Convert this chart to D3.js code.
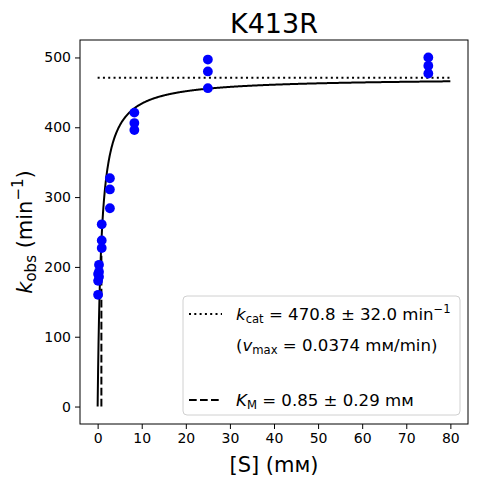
<!DOCTYPE html>
<html>
<head>
<meta charset="utf-8">
<script src="https://cdn.jsdelivr.net/npm/d3@7"></script>
<style>
  body { margin: 0; background: #fff; }
  text { font-family: "DejaVu Sans", sans-serif; fill: #000; }
</style>
</head>
<body>
<div id="chart"></div>
<script>
// measured substrate concentrations (mM) and observed rates (min^-1)
const substrate = [0.103, 0.103, 0.103, 0.309, 0.309, 0.309, 0.926, 0.926, 0.926,
                   2.78, 2.78, 2.78, 8.33, 8.33, 8.33, 25, 25, 25, 75, 75, 75];
const kobs = [160, 180, 190, 203, 193, 186, 261, 238, 227,
              327, 311, 284, 421, 406, 396, 497, 480, 456, 500, 488, 477];

// fitted Michaelis-Menten parameters
const kcat = 470.8;
const km = 0.85;
const xTicks = [0, 10, 20, 30, 40, 50, 60, 70, 80];
const yTicks = [0, 100, 200, 300, 400, 500];

const W = 477, H = 484;
const margin = {top: 40, right: 9, bottom: 60, left: 80};
const width = W - margin.left - margin.right,
      height = H - margin.top - margin.bottom;

const svg = d3.select("#chart")
  .append("svg")
    .attr("width", W)
    .attr("height", H);

const g = svg.append("g")
    .attr("transform", `translate(${margin.left},${margin.top})`);

const x = d3.scaleLinear().domain([-4, 84]).range([0, width]);
const y = d3.scaleLinear().domain([-25, 525]).range([height, 0]);

// axes
const xAxis = g.append("g")
  .attr("transform", `translate(0,${height})`)
  .call(d3.axisBottom(x).tickValues(xTicks).tickSize(5).tickPadding(4));
const yAxis = g.append("g")
  .call(d3.axisLeft(y).tickValues(yTicks).tickSize(5).tickPadding(4));
[xAxis, yAxis].forEach(a => {
  a.select(".domain").remove();
  a.selectAll("text").style("font-family", "DejaVu Sans").style("font-size", "14px").attr("fill", "#000");
  a.selectAll("line").attr("stroke", "#000").attr("stroke-width", 1);
});

// fitted curve
const curve = d3.range(0, 801).map(i => i / 10);
curve.splice(1, 0, 0.01, 0.02, 0.05);
curve.sort((a, b) => a - b);
g.append("path")
  .datum(curve)
  .attr("fill", "none")
  .attr("stroke", "#000")
  .attr("stroke-width", 2)
  .attr("d", d3.line().x(s => x(s)).y(s => y(kcat * s / (km + s))));

// kcat dotted line
g.append("line")
  .attr("x1", x(0)).attr("x2", x(80))
  .attr("y1", y(kcat)).attr("y2", y(kcat))
  .attr("stroke", "#000").attr("stroke-width", 2)
  .attr("stroke-dasharray", "2,3.3");

// KM dashed line
g.append("line")
  .attr("x1", x(km)).attr("x2", x(km))
  .attr("y1", y(0)).attr("y2", y(kcat / 2))
  .attr("stroke", "#000").attr("stroke-width", 2)
  .attr("stroke-dasharray", "7.7,3.3");

// data points
g.selectAll("circle")
  .data(substrate)
  .join("circle")
    .attr("cx", d => x(d))
    .attr("cy", (d, i) => y(kobs[i]))
    .attr("r", 4.9)
    .attr("fill", "#0000ff");

// frame
g.append("rect")
  .attr("width", width).attr("height", height)
  .attr("fill", "none").attr("stroke", "#000").attr("stroke-width", 1);

// legend
const leg = svg.append("g");
leg.append("rect")
  .attr("x", 183).attr("y", 296).attr("width", 277).attr("height", 119)
  .attr("rx", 4)
  .attr("fill", "#fff").attr("fill-opacity", 0.8)
  .attr("stroke", "#d0d0d0").attr("stroke-width", 1);
leg.append("line")
  .attr("x1", 189).attr("x2", 222).attr("y1", 314).attr("y2", 314)
  .attr("stroke", "#000").attr("stroke-width", 2).attr("stroke-dasharray", "2,3.3");
leg.append("line")
  .attr("x1", 189).attr("x2", 222).attr("y1", 400).attr("y2", 400)
  .attr("stroke", "#000").attr("stroke-width", 2).attr("stroke-dasharray", "7.7,3.3");

const fs = 16.6, sfs = 11.6;
const t1 = leg.append("text").attr("x", 236).attr("y", 320).style("font-size", fs + "px");
t1.append("tspan").style("font-style", "italic").text("k");
t1.append("tspan").attr("dy", 3).style("font-size", sfs + "px").text("cat");
t1.append("tspan").attr("dy", -3).text(" = 470.8 ± 32.0 min");
t1.append("tspan").attr("dy", -7).style("font-size", sfs + "px").text("−1");

const t2 = leg.append("text").attr("x", 236).attr("y", 351).style("font-size", fs + "px");
t2.append("tspan").text("(");
t2.append("tspan").style("font-style", "italic").text("v");
t2.append("tspan").attr("dy", 3).style("font-size", sfs + "px").text("max");
t2.append("tspan").attr("dy", -3).text(" = 0.0374 mᴍ/min)");

const t3 = leg.append("text").attr("x", 236).attr("y", 406).style("font-size", fs + "px");
t3.append("tspan").style("font-style", "italic").text("K");
t3.append("tspan").attr("dy", 3).style("font-size", sfs + "px").text("M");
t3.append("tspan").attr("dy", -3).text(" = 0.85 ± 0.29 mᴍ");

// title and axis labels
svg.append("text")
  .attr("x", margin.left + width / 2).attr("y", 33)
  .attr("text-anchor", "middle").style("font-size", "27px")
  .text("K413R");

svg.append("text")
  .attr("x", margin.left + width / 2).attr("y", 472)
  .attr("text-anchor", "middle").style("font-size", "21px")
  .text("[S] (mᴍ)");

const yl = svg.append("text")
  .attr("transform", `translate(32,${margin.top + height / 2}) rotate(-90)`)
  .attr("text-anchor", "middle").style("font-size", "21px");
yl.append("tspan").style("font-style", "italic").text("k");
yl.append("tspan").attr("dy", 4).style("font-size", "15px").text("obs");
yl.append("tspan").attr("dy", -4).text(" (min");
yl.append("tspan").attr("dy", -9).style("font-size", "15px").text("−1");
yl.append("tspan").attr("dy", 9).text(")");
</script>
</body>
</html>
